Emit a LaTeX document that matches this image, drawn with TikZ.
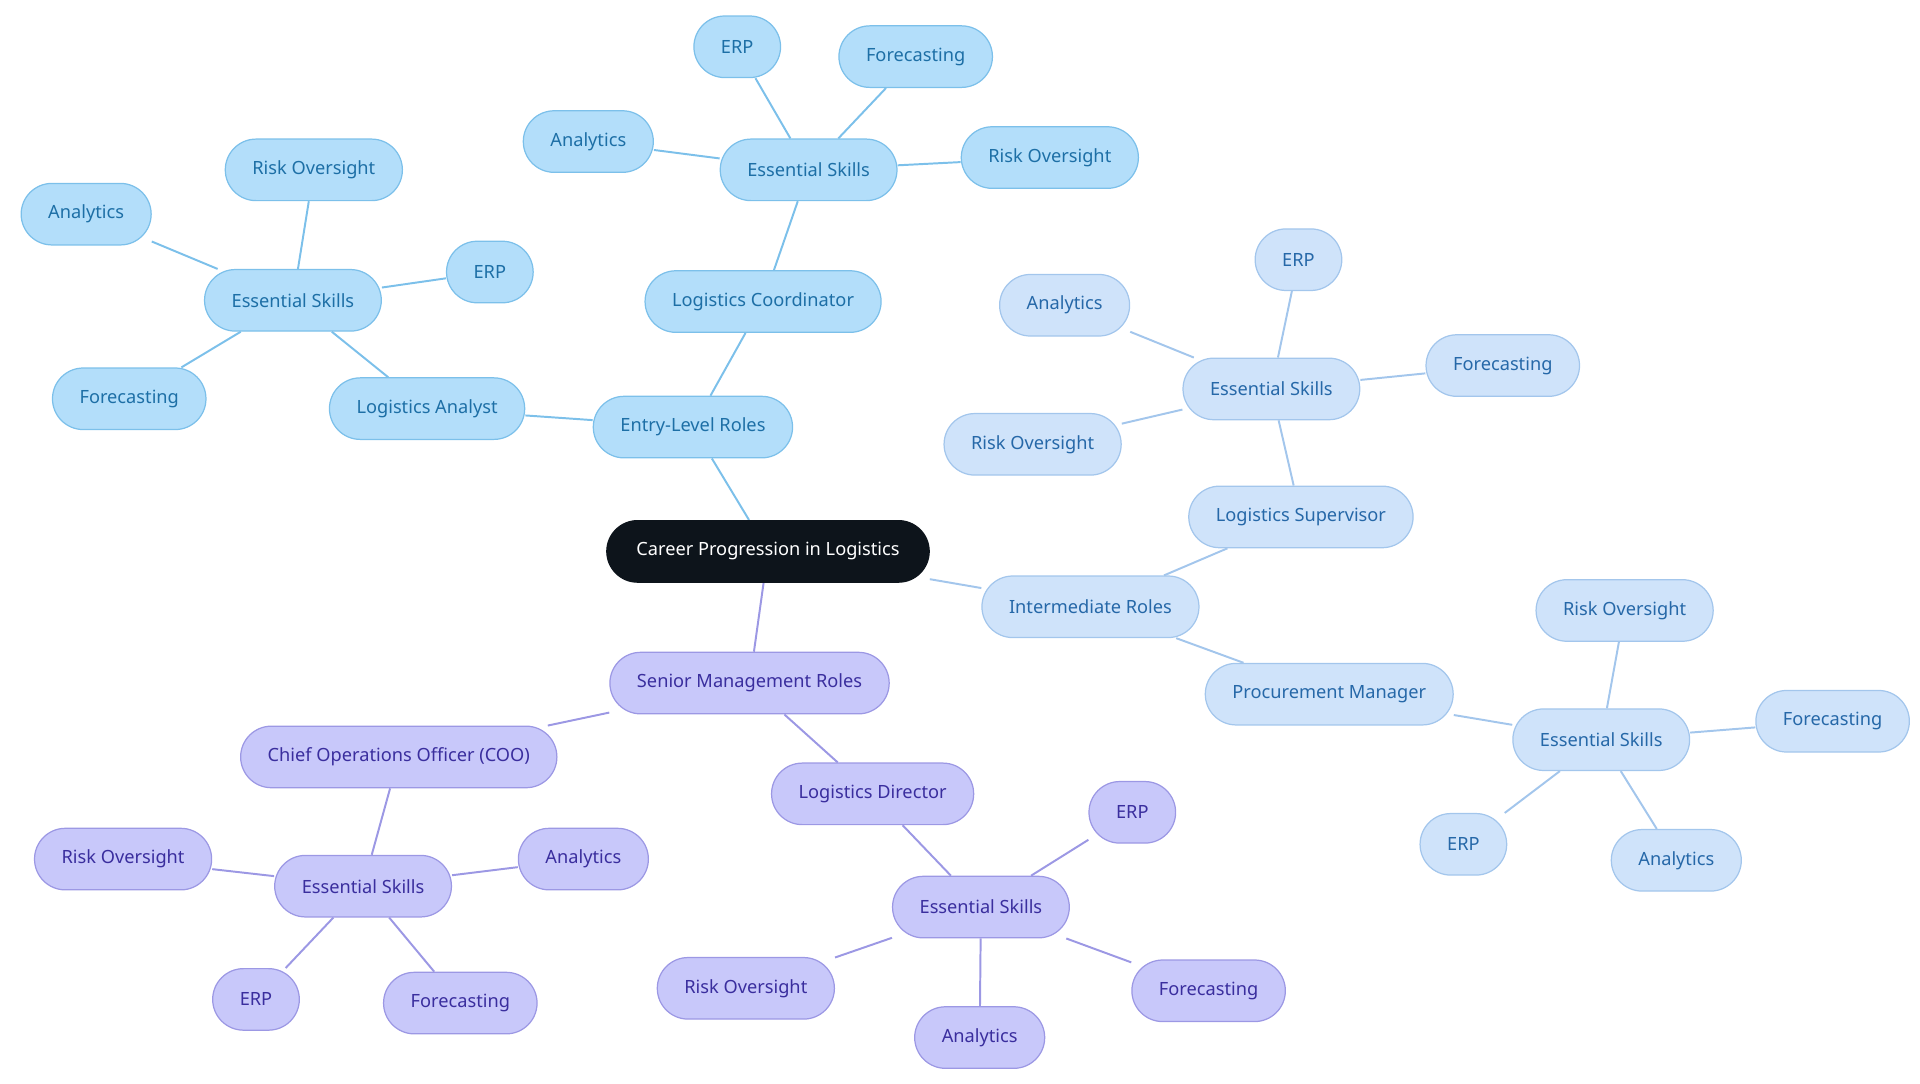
\documentclass[tikz,border=0pt]{standalone}
\usepackage{fontspec}
\setmainfont{Noto Sans}
\usetikzlibrary{backgrounds}

\definecolor{entfill}{HTML}{B3DEFA}
\definecolor{entline}{HTML}{7CC0EA}
\definecolor{enttext}{HTML}{1D6FA6}
\definecolor{intfill}{HTML}{CFE3FA}
\definecolor{intline}{HTML}{A3C6EC}
\definecolor{inttext}{HTML}{2668A8}
\definecolor{senfill}{HTML}{C8C8FA}
\definecolor{senline}{HTML}{9C98E4}
\definecolor{sentext}{HTML}{3A2E9E}
\definecolor{rootfill}{HTML}{0D141B}

\tikzset{
  box/.style={rounded corners=12.5pt, minimum height=25pt, inner xsep=11pt,
    font=\fontsize{7.4}{9}\selectfont, line width=0.5pt},
  entbox/.style={box, fill=entfill, draw=entline, text=enttext},
  intbox/.style={box, fill=intfill, draw=intline, text=inttext},
  senbox/.style={box, fill=senfill, draw=senline, text=sentext},
  rootbox/.style={box, fill=rootfill, draw=rootfill, text=white, inner xsep=12pt},
  entlink/.style={draw=entline, line width=0.8pt},
  intlink/.style={draw=intline, line width=0.8pt},
  senlink/.style={draw=senline, line width=0.8pt}
}

\begin{document}
\begin{tikzpicture}[x=0.5pt, y=-0.5pt]
  \useasboundingbox (0,0) rectangle (1560,880);

  \node[rootbox] (root) at (624,448) {Career Progression in Logistics};

  % entry level
  \node[entbox] (entry) at (563,347) {Entry-Level Roles};
  \node[entbox] (coord) at (620,245) {Logistics Coordinator};
  \node[entbox] (skA) at (657,138) {Essential Skills};
  \node[entbox] (skAerp) at (599,38) {ERP};
  \node[entbox] (skAfor) at (744,46) {Forecasting};
  \node[entbox] (skAana) at (478,115) {Analytics};
  \node[entbox] (skArisk) at (853,128) {Risk Oversight};
  \node[entbox] (analyst) at (347,332) {Logistics Analyst};
  \node[entbox] (skB) at (238,244) {Essential Skills};
  \node[entbox] (skBrisk) at (255,138) {Risk Oversight};
  \node[entbox] (skBana) at (70,174) {Analytics};
  \node[entbox] (skBerp) at (398,221) {ERP};
  \node[entbox] (skBfor) at (105,324) {Forecasting};

  % intermediate
  \node[intbox] (inter) at (886,493) {Intermediate Roles};
  \node[intbox] (super) at (1057,420) {Logistics Supervisor};
  \node[intbox] (skC) at (1033,316) {Essential Skills};
  \node[intbox] (skCerp) at (1055,211) {ERP};
  \node[intbox] (skCana) at (865,248) {Analytics};
  \node[intbox] (skCfor) at (1221,297) {Forecasting};
  \node[intbox] (skCrisk) at (839,361) {Risk Oversight};
  \node[intbox] (procure) at (1080,564) {Procurement Manager};
  \node[intbox] (skD) at (1301,601) {Essential Skills};
  \node[intbox] (skDrisk) at (1320,496) {Risk Oversight};
  \node[intbox] (skDfor) at (1489,586) {Forecasting};
  \node[intbox] (skDerp) at (1189,686) {ERP};
  \node[intbox] (skDana) at (1362,699) {Analytics};

  % senior
  \node[senbox] (senior) at (609,555) {Senior Management Roles};
  \node[senbox] (coo) at (324,615) {Chief Operations Officer (COO)};
  \node[senbox] (skE) at (295,720) {Essential Skills};
  \node[senbox] (skErisk) at (100,698) {Risk Oversight};
  \node[senbox] (skEana) at (474,698) {Analytics};
  \node[senbox] (skEerp) at (208,812) {ERP};
  \node[senbox] (skEfor) at (374,815) {Forecasting};
  \node[senbox] (director) at (709,645) {Logistics Director};
  \node[senbox] (skF) at (797,737) {Essential Skills};
  \node[senbox] (skFerp) at (920,660) {ERP};
  \node[senbox] (skFrisk) at (606,803) {Risk Oversight};
  \node[senbox] (skFana) at (796,843) {Analytics};
  \node[senbox] (skFfor) at (982,805) {Forecasting};

  \begin{scope}[on background layer]
    \draw[entlink] (root) -- (entry);
    \foreach \a/\b in {entry/coord, coord/skA, entry/analyst, analyst/skB} \draw[entlink] (\a) -- (\b);
    \foreach \s in {erp, for, ana, risk} {
      \draw[entlink] (skA) -- (skA\s);
      \draw[entlink] (skB) -- (skB\s);
    }
    \draw[intlink] (root) -- (inter);
    \foreach \a/\b in {inter/super, super/skC, inter/procure, procure/skD} \draw[intlink] (\a) -- (\b);
    \foreach \s in {erp, for, ana, risk} {
      \draw[intlink] (skC) -- (skC\s);
      \draw[intlink] (skD) -- (skD\s);
    }
    \draw[senlink] (root) -- (senior);
    \foreach \a/\b in {senior/coo, coo/skE, senior/director, director/skF} \draw[senlink] (\a) -- (\b);
    \foreach \s in {erp, for, ana, risk} {
      \draw[senlink] (skE) -- (skE\s);
      \draw[senlink] (skF) -- (skF\s);
    }
  \end{scope}
\end{tikzpicture}
\end{document}
